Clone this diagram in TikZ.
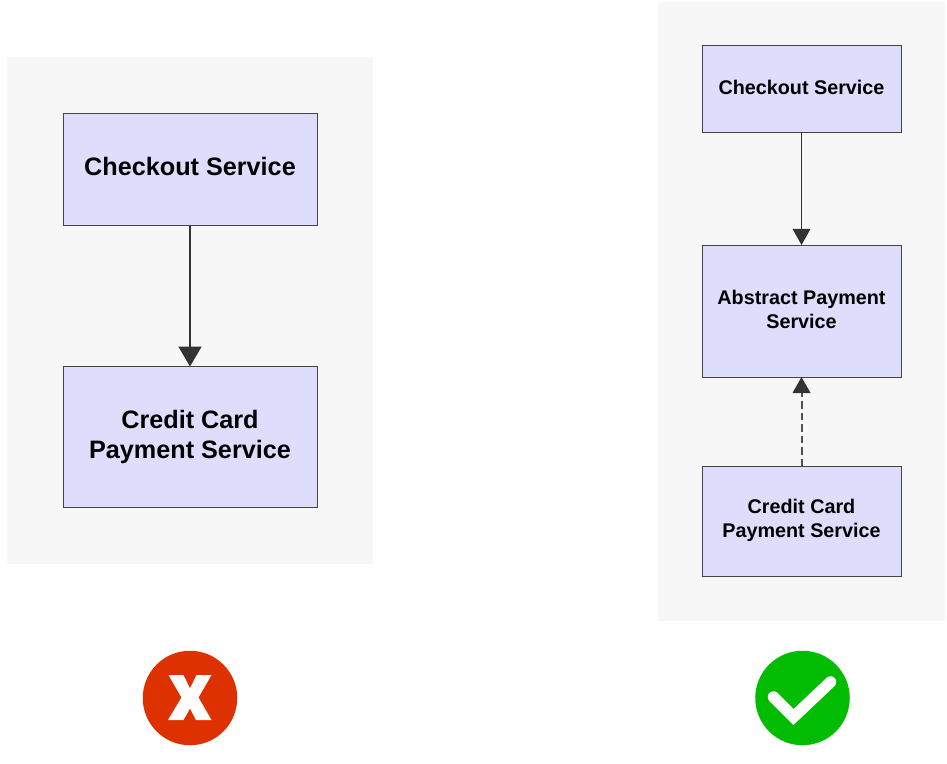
\documentclass[tikz,border=0pt]{standalone}
\usepackage{fontspec}
\setmainfont{Liberation Sans}
\usetikzlibrary{arrows.meta}
\definecolor{panelgray}{HTML}{F7F7F7}
\definecolor{boxfill}{HTML}{DEDEFC}
\definecolor{boxline}{HTML}{444444}
\definecolor{linkdark}{HTML}{333333}
\definecolor{crossred}{HTML}{DE3100}
\definecolor{tickgreen}{HTML}{02BC02}
\tikzset{
  panel/.style={fill=panelgray,draw=none,inner sep=0pt,outer sep=0pt},
  service/.style={fill=boxfill,draw=boxline,line width=0.02cm,inner sep=0pt,outer sep=0pt,align=center},
  bigtext/.style={font=\bfseries\fontsize{14.35}{17.2}\selectfont},
  smalltext/.style={font=\bfseries\fontsize{11.25}{13.6}\selectfont},
  link/.style={draw=linkdark,line width=0.035cm},
  icon/.style={circle,inner sep=0pt,outer sep=0pt,minimum size=1.89cm},
}
\begin{document}
\begin{tikzpicture}[line cap=butt]
\useasboundingbox (0,0) rectangle (18.94,15.26);
\node[panel,minimum width=7.32cm,minimum height=10.14cm] (badpanel) at (3.8,9.05) {};
\node[panel,minimum width=5.74cm,minimum height=12.38cm] (goodpanel) at (16.03,9.03) {};
\node[service,bigtext,minimum width=5.08cm,minimum height=2.24cm,text depth=3.4pt] (badcheckout) at (3.8,11.87) {Checkout Service};
\node[service,bigtext,minimum width=5.08cm,minimum height=2.82cm,text depth=3pt] (badcard) at (3.8,6.52) {Credit Card\\Payment Service};
\node[service,smalltext,minimum width=3.98cm,minimum height=1.74cm,text depth=2.3pt] (goodcheckout) at (16.03,13.47) {Checkout Service};
\node[service,smalltext,minimum width=3.98cm,minimum height=2.64cm,text depth=2.3pt] (abstract) at (16.03,9.04) {Abstract Payment\\Service};
\node[service,smalltext,minimum width=3.98cm,minimum height=2.2cm,text depth=3.5pt] (goodcard) at (16.03,4.84) {Credit Card\\Payment Service};
\draw[link,-{Stealth[length=0.4cm,width=0.46cm,inset=0pt]}] (badcheckout) -- (badcard);
\draw[link,-{Stealth[length=0.32cm,width=0.35cm,inset=0pt]}] (goodcheckout) -- (abstract);
\draw[link,draw=linkdark!85,line width=0.04cm,dash pattern=on 0.15cm off 0.08cm,-{Stealth[length=0.32cm,width=0.35cm,inset=0pt,color=linkdark]}] (goodcard) -- (abstract);
\node[icon,fill=crossred] (crossicon) at (3.8,1.3) {};
\node[icon,fill=tickgreen] (tickicon) at (16.05,1.3) {};
\fill[white,shift={(crossicon.center)}] (-0.43,0.46) -- (-0.13,0.46) -- (0,0.19) -- (0.13,0.46) -- (0.43,0.46) -- (0.17,0.01) -- (0.43,-0.44) -- (0.12,-0.44) -- (0,-0.21) -- (-0.13,-0.44) -- (-0.44,-0.44) -- (-0.17,0.01) -- cycle;
\draw[white,line width=0.23cm,line cap=round,miter limit=10,shift={(tickicon.center)}] (-0.58,0.02) -- (-0.18,-0.38) -- (0.56,0.32);
\end{tikzpicture}
\end{document}
